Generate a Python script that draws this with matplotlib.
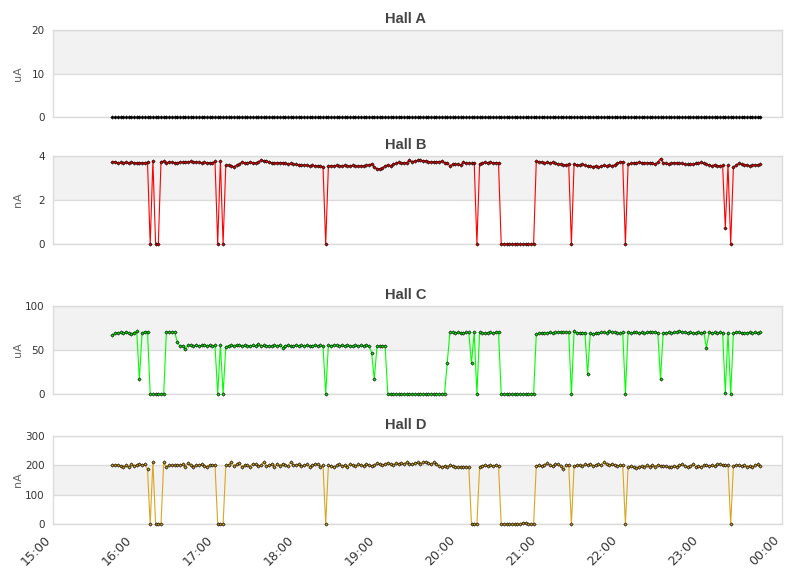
"""
Hall probe currents over one evening (15:00 - 00:00), four stacked panels.
Outputs: out.png
"""
import numpy as np
import pandas as pd
import matplotlib
matplotlib.use('Agg')
import matplotlib.pyplot as plt
import matplotlib.dates as mdates

# === Data (one reading every 2 min, 15:44 -> 23:44) ===
times = pd.date_range("2024-01-01 15:44", periods=241, freq="2min")

hall_a = [0.0] * len(times)   # flat zero all evening

hall_b = [
    3.72, 3.75, 3.68, 3.72, 3.70, 3.72, 3.68, 3.72, 3.70, 3.68,
    3.70, 3.68, 3.70, 3.72, 0, 3.78, 0, 0, 3.75, 3.76,
    3.70, 3.73, 3.72, 3.70, 3.70, 3.72, 3.72, 3.74, 3.72, 3.76,
    3.73, 3.73, 3.72, 3.70, 3.72, 3.70, 3.70, 3.68, 3.76, 0,
    3.78, 0, 3.58, 3.58, 3.56, 3.52, 3.58, 3.62, 3.75, 3.68,
    3.70, 3.72, 3.70, 3.68, 3.72, 3.82, 3.78, 3.78, 3.74, 3.70,
    3.68, 3.70, 3.70, 3.70, 3.70, 3.64, 3.66, 3.62, 3.62, 3.60,
    3.60, 3.58, 3.58, 3.56, 3.58, 3.56, 3.56, 3.54, 3.52, 0,
    3.55, 3.56, 3.54, 3.58, 3.55, 3.56, 3.58, 3.56, 3.55, 3.57,
    3.56, 3.54, 3.55, 3.56, 3.58, 3.60, 3.64, 3.50, 3.42, 3.42,
    3.46, 3.55, 3.60, 3.56, 3.62, 3.66, 3.72, 3.68, 3.70, 3.70,
    3.80, 3.75, 3.78, 3.80, 3.82, 3.78, 3.78, 3.75, 3.74, 3.74,
    3.74, 3.75, 3.77, 3.70, 3.66, 3.56, 3.62, 3.62, 3.64, 3.58,
    3.72, 3.66, 3.68, 3.66, 3.70, 0, 3.64, 3.70, 3.72, 3.68,
    3.74, 3.68, 3.70, 3.70, 0, 0, 0, 0, 0, 0,
    0, 0, 0, 0, 0, 0, 0, 3.78, 3.74, 3.72,
    3.70, 3.72, 3.68, 3.72, 3.66, 3.64, 3.62, 3.60, 3.60, 3.64,
    0, 3.65, 3.60, 3.58, 3.62, 3.58, 3.55, 3.54, 3.52, 3.55,
    3.50, 3.55, 3.58, 3.55, 3.58, 3.56, 3.60, 3.68, 3.72, 3.75,
    0, 3.64, 3.66, 3.68, 3.70, 3.72, 3.70, 3.70, 3.68, 3.70,
    3.68, 3.64, 3.72, 3.88, 3.70, 3.66, 3.64, 3.68, 3.70, 3.68,
    3.66, 3.66, 3.62, 3.62, 3.62, 3.64, 3.66, 3.68, 3.72, 3.66,
    3.62, 3.60, 3.56, 3.60, 3.56, 3.56, 3.58, 0.75, 3.58, 0,
    3.50, 3.58, 3.66, 3.62, 3.58, 3.60, 3.56, 3.58, 3.60, 3.58,
    3.62,
]

hall_c = [
    66.7, 69.0, 69.7, 70.0, 69.7, 70.5, 69.0, 68.5, 69.7, 71.6,
    16.7, 69.7, 70.8, 70.8, 0, 0, 0, 0, 0, 0,
    70.5, 70.5, 70.0, 70.8, 59.5, 54.5, 54.8, 51.0, 55.7, 55.5,
    55.0, 55.5, 54.8, 55.2, 55.5, 55.0, 55.5, 55.0, 55.2, 0,
    55.7, 0, 53.8, 55.0, 55.5, 55.0, 55.8, 55.2, 55.0, 55.5,
    55.0, 54.8, 55.5, 55.0, 56.5, 55.0, 55.2, 54.5, 55.0, 54.5,
    55.5, 55.0, 55.5, 52.8, 55.0, 55.5, 55.0, 55.0, 55.5, 55.0,
    55.2, 55.0, 55.5, 55.0, 55.0, 55.5, 55.0, 55.2, 55.0, 0,
    55.7, 55.0, 55.5, 55.2, 55.0, 55.5, 54.8, 55.5, 55.0, 54.5,
    55.5, 55.0, 55.2, 55.0, 55.5, 55.0, 47.0, 16.7, 54.5, 55.0,
    55.0, 55.0, 0, 0, 0, 0, 0, 0, 0, 0,
    0, 0, 0, 0, 0, 0, 0, 0, 0, 0,
    0, 0, 0, 0, 34.8, 70.0, 70.0, 69.5, 70.0, 69.5,
    69.0, 70.0, 70.0, 34.8, 70.5, 0, 70.0, 69.5, 69.0, 69.5,
    70.5, 69.0, 70.0, 70.5, 0, 0, 0, 0, 0, 0,
    0, 0, 0, 0, 0, 0, 0, 68.0, 69.5, 69.5,
    69.0, 69.5, 70.0, 69.5, 70.0, 70.0, 70.5, 70.0, 70.5, 70.0,
    0, 71.6, 69.7, 69.7, 69.5, 69.7, 22.3, 69.5, 67.8, 69.5,
    69.5, 70.0, 70.0, 69.5, 71.6, 70.5, 70.0, 69.5, 69.0, 70.5,
    0, 70.8, 69.5, 70.0, 70.0, 69.5, 70.0, 69.5, 70.0, 70.5,
    70.0, 70.8, 69.5, 16.7, 69.7, 69.5, 70.0, 69.5, 70.0, 71.0,
    71.6, 70.0, 70.5, 69.5, 70.0, 69.5, 69.0, 70.0, 69.5, 70.0,
    52.7, 70.0, 69.5, 70.0, 69.5, 70.0, 69.7, 1.5, 69.7, 0,
    69.0, 70.0, 70.5, 69.5, 69.0, 69.5, 70.0, 69.5, 70.0, 69.5,
    70.5,
]

hall_d = [
    201, 200, 202, 198, 196, 200, 193, 203, 198, 202,
    206, 200, 204, 186, 0, 212, 0, 0, 0, 210,
    194, 201, 200, 200, 202, 200, 204, 196, 208, 200,
    194, 202, 200, 204, 198, 196, 202, 200, 201, 0,
    0, 0, 200, 202, 211, 199, 203, 208, 194, 201,
    200, 196, 206, 203, 198, 200, 211, 198, 200, 205,
    196, 203, 199, 206, 200, 198, 210, 202, 200, 205,
    198, 200, 203, 196, 201, 205, 203, 196, 200, 0,
    201, 197, 193, 200, 203, 198, 201, 196, 204, 200,
    198, 203, 200, 199, 205, 202, 198, 202, 207, 203,
    200, 206, 209, 203, 201, 208, 205, 209, 204, 211,
    206, 203, 208, 210, 204, 210, 213, 207, 203, 210,
    205, 197, 193, 199, 196, 201, 198, 196, 193, 195,
    194, 195, 193, 0, 0, 0, 195, 199, 201, 198,
    200, 198, 201, 199, 0, 0, 0, 0, 0, 0,
    0, 0, 5, 4, 0, 0, 0, 199, 201, 197,
    202, 207, 200, 198, 203, 203, 198, 186, 200, 201,
    0, 198, 200, 201, 198, 203, 200, 205, 199, 201,
    204, 201, 210, 203, 200, 206, 201, 199, 200, 201,
    0, 193, 197, 194, 192, 196, 198, 194, 200, 196,
    201, 196, 202, 199, 198, 197, 193, 194, 199, 196,
    201, 203, 198, 193, 197, 204, 196, 199, 194, 201,
    200, 199, 201, 198, 203, 205, 200, 200, 200, 0,
    198, 201, 200, 199, 200, 196, 199, 194, 201, 203,
    199,
]

titles = ["Hall A", "Hall B", "Hall C", "Hall D"]
units = ["uA", "nA", "uA", "nA"]
series = [hall_a, hall_b, hall_c, hall_d]
yticks = [[0, 10, 20], [0, 2, 4], [0, 50, 100], [0, 100, 200, 300]]
colors = ["#000000", "#ff0000", "#00ff00", "#daa520"]

# panel boxes in pixels (top, bottom) of the 811x578 canvas
W, H = 811, 578
boxes = [(30, 117), (156, 244), (306, 394), (436, 524)]
title_y = [19, 145, 295, 425]
LEFT, RIGHT = 53, 782

GRID = "#dcdcdc"
BAND = "#f2f2f2"

fig = plt.figure(figsize=(W / 100, H / 100), dpi=100)
x0 = pd.Timestamp("2024-01-01 15:00")
x1 = pd.Timestamp("2024-01-02 00:00")

for k in range(4):
    top, bot = boxes[k]
    ax = fig.add_axes([LEFT / W, 1 - bot / H, (RIGHT - LEFT) / W, (bot - top) / H])
    ticks = yticks[k]
    ax.set_ylim(ticks[0], ticks[-1])
    ax.set_yticks(ticks)
    ax.set_xlim(x0, x1)

    # alternating bands: second interval grey
    for j in range(1, len(ticks) - 1, 2):
        ax.axhspan(ticks[j], ticks[j + 1], color=BAND, lw=0, zorder=0)
    for t in ticks:
        ax.axhline(t, color=GRID, lw=1, zorder=1)

    for s in ax.spines.values():
        s.set_color(GRID)
        s.set_linewidth(1)

    vals = np.array(series[k], dtype=float)
    ax.plot(times, vals, color=colors[k], lw=0.8, zorder=2)
    ax.plot(times, vals, ls="none", marker="D", ms=1.7, mfc=colors[k],
            mec="black", mew=0.45, clip_on=False, zorder=4)

    ax.tick_params(axis="y", length=0, pad=6, labelsize=7.5, labelcolor="#333333")
    ax.set_ylabel(units[k], fontsize=8, color="#666666")
    ax.yaxis.set_label_coords(-0.041, 0.5)

    ax.xaxis.set_major_locator(mdates.HourLocator())
    ax.xaxis.set_major_formatter(mdates.DateFormatter("%H:%M"))
    if k < 3:
        ax.tick_params(axis="x", length=0, labelbottom=False)
    else:
        ax.tick_params(axis="x", length=0, pad=7, labelsize=9, labelcolor="#333333")
        for lab in ax.get_xticklabels():
            lab.set_rotation(45)
            lab.set_ha("right")
            lab.set_va("top")

    fig.text(0.5, 1 - title_y[k] / H, titles[k], ha="center", va="center",
             fontsize=10.5, fontweight="bold", color="#444444",
             family="Liberation Sans")

fig.savefig("out.png", dpi=100)
plt.close(fig)
